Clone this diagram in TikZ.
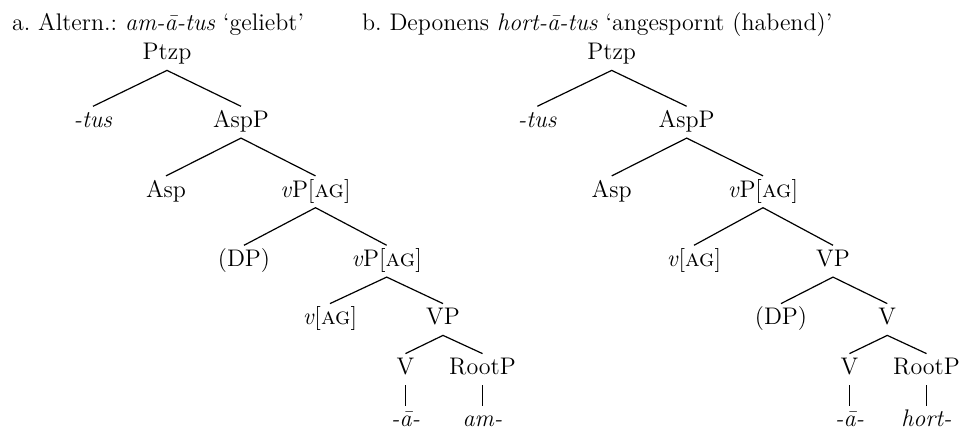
\documentclass[tikz,border=0pt]{standalone}
\frenchspacing

\tikzset{
  lab/.style={anchor=base, inner xsep=0pt, inner ysep=3pt,
    text height=7.5pt, text depth=2pt, font=\fontsize{12}{14}\selectfont},
  caption/.style={anchor=base west, inner sep=0pt, font=\fontsize{12}{14}\selectfont},
  branch/.style={line width=0.6pt}
}
\newcommand{\vAG}[1]{\textit{v}#1[\textsc{ag}]}

\begin{document}
\begin{tikzpicture}[x=0.5pt, y=-0.5pt]
  \useasboundingbox (0,0) rectangle (960,432);

  % headings
  \node[caption] (ta) at (11.7,30.7) {a. Altern.: \textit{am-ā-tus} ‘geliebt’};
  \node[caption] (tb) at (361.7,30.7) {b. Deponens \textit{hort-ā-tus} ‘angespornt (habend)’};

  % tree a
  \node[lab] (a0)  at (167,60)      {Ptzp};
  \node[lab] (a1)  at (93,127.7)    {\textit{-tus}};
  \node[lab] (a2)  at (241,127.7)   {AspP};
  \node[lab] (a3)  at (166,197.3)   {Asp};
  \node[lab] (a4)  at (315.5,197.3) {\vAG{P}};
  \node[lab] (a5)  at (244,266.7)   {(DP)};
  \node[lab] (a6)  at (386.7,266.7) {\vAG{P}};
  \node[lab] (a7)  at (330,325)     {\vAG{}};
  \node[lab] (a8)  at (443,325)     {VP};
  \node[lab] (a9)  at (405.5,375)   {V};
  \node[lab] (a10) at (482.5,375)   {RootP};
  \node[lab] (a11) at (405.5,427)   {\textit{-ā-}};
  \node[lab] (a12) at (482.5,427)   {\textit{am-}};

  \draw[branch] (a1.north) -- (a0.south) -- (a2.north);
  \draw[branch] (a3.north) -- (a2.south) -- (a4.north);
  \draw[branch] (a5.north) -- (a4.south) -- (a6.north);
  \draw[branch] (a7.north) -- (a6.south) -- (a8.north);
  \draw[branch] (a9.north) -- (a8.south) -- (a10.north);
  \draw[branch] (a9.south) -- (a11.north);
  \draw[branch] (a10.south) -- (a12.north);

  % tree b
  \node[lab] (b0)  at (611.7,60)    {Ptzp};
  \node[lab] (b1)  at (537.3,127.7) {\textit{-tus}};
  \node[lab] (b2)  at (686.7,127.7) {AspP};
  \node[lab] (b3)  at (611.7,197.3) {Asp};
  \node[lab] (b4)  at (763,197.3)   {\vAG{P}};
  \node[lab] (b5)  at (694,266.7)   {\vAG{}};
  \node[lab] (b6)  at (833,266.7)   {VP};
  \node[lab] (b7)  at (781,325)     {(DP)};
  \node[lab] (b8)  at (887.3,325)   {V};
  \node[lab] (b9)  at (849.5,375)   {V};
  \node[lab] (b10) at (926.5,375)   {RootP};
  \node[lab] (b11) at (849.5,427)   {\textit{-ā-}};
  \node[lab] (b12) at (926.5,427)   {\textit{hort-}};

  \draw[branch] (b1.north) -- (b0.south) -- (b2.north);
  \draw[branch] (b3.north) -- (b2.south) -- (b4.north);
  \draw[branch] (b5.north) -- (b4.south) -- (b6.north);
  \draw[branch] (b7.north) -- (b6.south) -- (b8.north);
  \draw[branch] (b9.north) -- (b8.south) -- (b10.north);
  \draw[branch] (b9.south) -- (b11.north);
  \draw[branch] (b10.south) -- (b12.north);
\end{tikzpicture}
\end{document}
